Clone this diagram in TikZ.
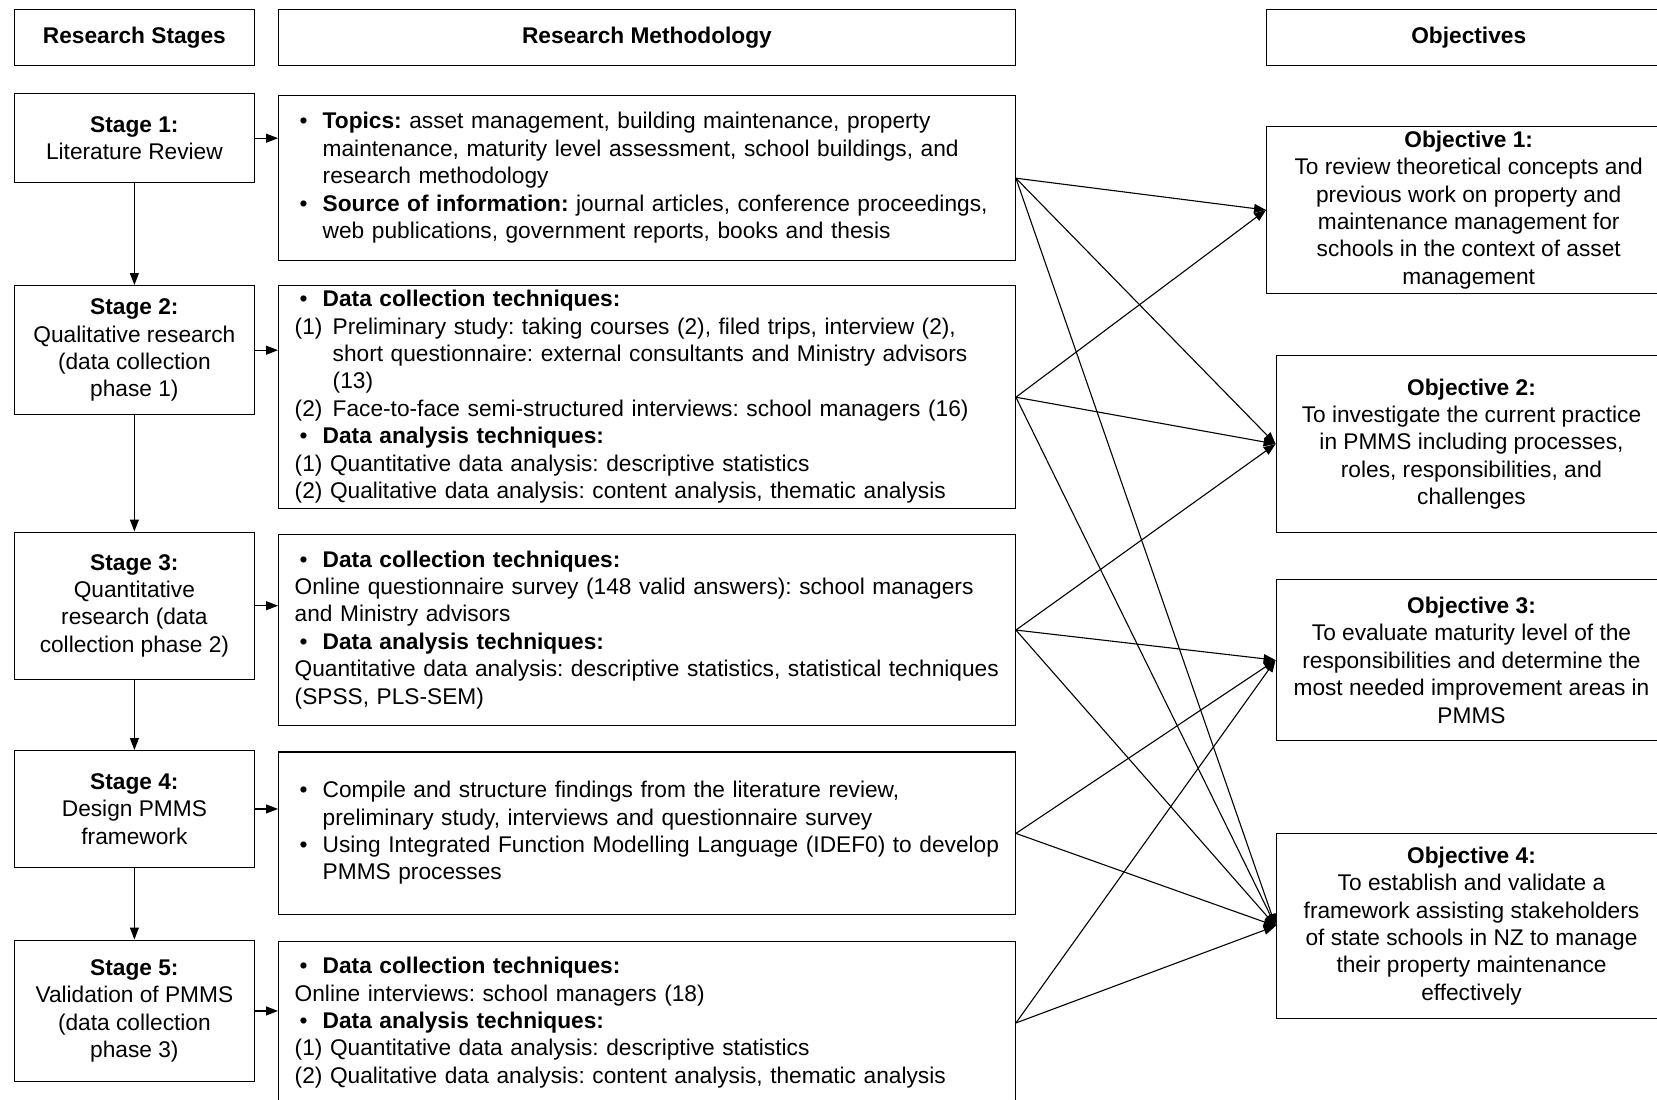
\documentclass[tikz,border=0pt]{standalone}
\usepackage{fontspec}
\setmainfont{Liberation Sans}
\usetikzlibrary{arrows.meta,calc}

% bullet, hanging indent and numbered labels used inside the method boxes
\newcommand{\bul}{\makebox[28pt][l]{\hspace{5pt}\textbullet}}
\newcommand{\contln}{\hspace*{28pt}}
\newcommand{\numlbl}[1]{\makebox[38pt][l]{#1}}
\newcommand{\numcont}{\hspace*{38pt}}

\begin{document}
\frenchspacing
\begin{tikzpicture}[x=1pt,y=-1pt,
  every node/.style={font=\fontsize{22.7pt}{27.4pt}\selectfont},
  box/.style={draw=black, line width=1.4pt, anchor=north west, inner sep=0pt},
  stagebox/.style={box, minimum width=240pt, align=center},
  methbox/.style={box, minimum width=736.5pt, text width=704.5pt, inner xsep=16pt, align=left},
  objbox/.style={box, minimum width=390.4pt, align=center},
  arr/.style={line width=1.2pt, -{Triangle[length=12pt,width=9pt]}},
  link/.style={line width=1.1pt, -{Triangle[length=12pt,width=9pt]}}
]
\fill[white] (0,0) rectangle (1657,1100);
\useasboundingbox (0,0) rectangle (1657,1100);

% column headers
\node[stagebox, minimum height=56pt] (hstage) at (13.7,8.5) {\textbf{Research Stages}};
\node[box, minimum width=736.5pt, minimum height=56pt] (hmeth) at (278,8.5) {\textbf{Research Methodology}};
\node[objbox, minimum width=404pt, minimum height=56pt] (hobj) at (1266,8.5) {\textbf{Objectives}};

% research stages
\node[stagebox, minimum height=89pt] (s1) at (13.7,93) {\textbf{Stage 1:}\\Literature Review};
\node[stagebox, minimum height=129pt] (s2) at (13.7,285) {\textbf{Stage 2:}\\Qualitative research\\(data collection\\phase 1)};
\node[stagebox, minimum height=147pt] (s3) at (13.7,531.5) {\textbf{Stage 3:}\\Quantitative\\research (data\\collection phase 2)};
\node[stagebox, minimum height=116.5pt] (s4) at (13.7,750) {\textbf{Stage 4:}\\Design PMMS\\framework};
\node[stagebox, minimum height=141.5pt] (s5) at (13.7,939.5) {\textbf{Stage 5:}\\Validation of PMMS\\(data collection\\phase 3)};

% methodology
\node[methbox, minimum height=165pt] (m1) at (278,95) {\begin{tabular}{@{}l@{}}
\bul\textbf{Topics:} asset management, building maintenance, property\\
\contln maintenance, maturity level assessment, school buildings, and\\
\contln research methodology\\
\bul\textbf{Source of information:} journal articles, conference proceedings,\\
\contln web publications, government reports, books and thesis
\end{tabular}};
\node[methbox, minimum height=223pt] (m2) at (278,285) {\begin{tabular}{@{}l@{}}
\bul\textbf{Data collection techniques:}\\
\numlbl{(1)}Preliminary study: taking courses (2), filed trips, interview (2),\\
\numcont short questionnaire: external consultants and Ministry advisors\\
\numcont (13)\\
\numlbl{(2)}Face-to-face semi-structured interviews: school managers (16)\\
\bul\textbf{Data analysis techniques:}\\
(1) Quantitative data analysis: descriptive statistics\\
(2) Qualitative data analysis: content analysis, thematic analysis
\end{tabular}};
\node[methbox, minimum height=191.3pt] (m3) at (278,533.7) {\begin{tabular}{@{}l@{}}
\bul\textbf{Data collection techniques:}\\
Online questionnaire survey (148 valid answers): school managers\\
and Ministry advisors\\
\bul\textbf{Data analysis techniques:}\\
Quantitative data analysis: descriptive statistics, statistical techniques\\
(SPSS, PLS-SEM)
\end{tabular}};
\node[methbox, minimum height=162.6pt] (m4) at (278,751.4) {\begin{tabular}{@{}l@{}}
\bul Compile and structure findings from the literature review,\\
\contln preliminary study, interviews and questionnaire survey\\
\bul Using Integrated Function Modelling Language (IDEF0) to develop\\
\contln PMMS processes
\end{tabular}};
\node[methbox, minimum height=163.5pt] (m5) at (278,940.5) {\begin{tabular}{@{}l@{}}
\bul\textbf{Data collection techniques:}\\
Online interviews: school managers (18)\\
\bul\textbf{Data analysis techniques:}\\
(1) Quantitative data analysis: descriptive statistics\\
(2) Qualitative data analysis: content analysis, thematic analysis
\end{tabular}};

% objectives
\node[objbox, minimum width=404pt, minimum height=167pt] (o1) at (1266,125.8) {\textbf{Objective 1:}\\To review theoretical concepts and\\previous work on property and\\maintenance management for\\schools in the context of asset\\management};
\node[objbox, minimum height=176.6pt] (o2) at (1275.6,355) {\textbf{Objective 2:}\\To investigate the current practice\\in PMMS including processes,\\roles, responsibilities, and\\challenges};
\node[objbox, minimum height=160.8pt] (o3) at (1275.6,579) {\textbf{Objective 3:}\\To evaluate maturity level of the\\responsibilities and determine the\\most needed improvement areas in\\PMMS};
\node[objbox, minimum height=185pt] (o4) at (1275.6,832.8) {\textbf{Objective 4:}\\To establish and validate a\\framework assisting stakeholders\\of state schools in NZ to manage\\their property maintenance\\effectively};

% stage sequence
\draw[arr] (s1) -- (s2);
\draw[arr] (s2) -- (s3);
\draw[arr] (s3) -- (s4);
\draw[arr] (s4) -- (s5);

% stage to methodology
\foreach \i in {1,...,5} {
  \draw[arr] (s\i.east) -- (s\i.east -| m\i.west);
}

% methodology to objectives
\draw[link] (m1.east) -- (o1.west);
\draw[link] (m1.east) -- (o2.west);
\draw[link] (m1.east) -- (o4.west);
\draw[link] (m2.east) -- (o1.west);
\draw[link] (m2.east) -- (o2.west);
\draw[link] (m2.east) -- (o4.west);
\draw[link] (m3.east) -- (o2.west);
\draw[link] (m3.east) -- (o3.west);
\draw[link] (m3.east) -- (o4.west);
\draw[link] (m4.east) -- (o3.west);
\draw[link] (m4.east) -- (o4.west);
\draw[link] (m5.east) -- (o3.west);
\draw[link] (m5.east) -- (o4.west);
\end{tikzpicture}
\end{document}
